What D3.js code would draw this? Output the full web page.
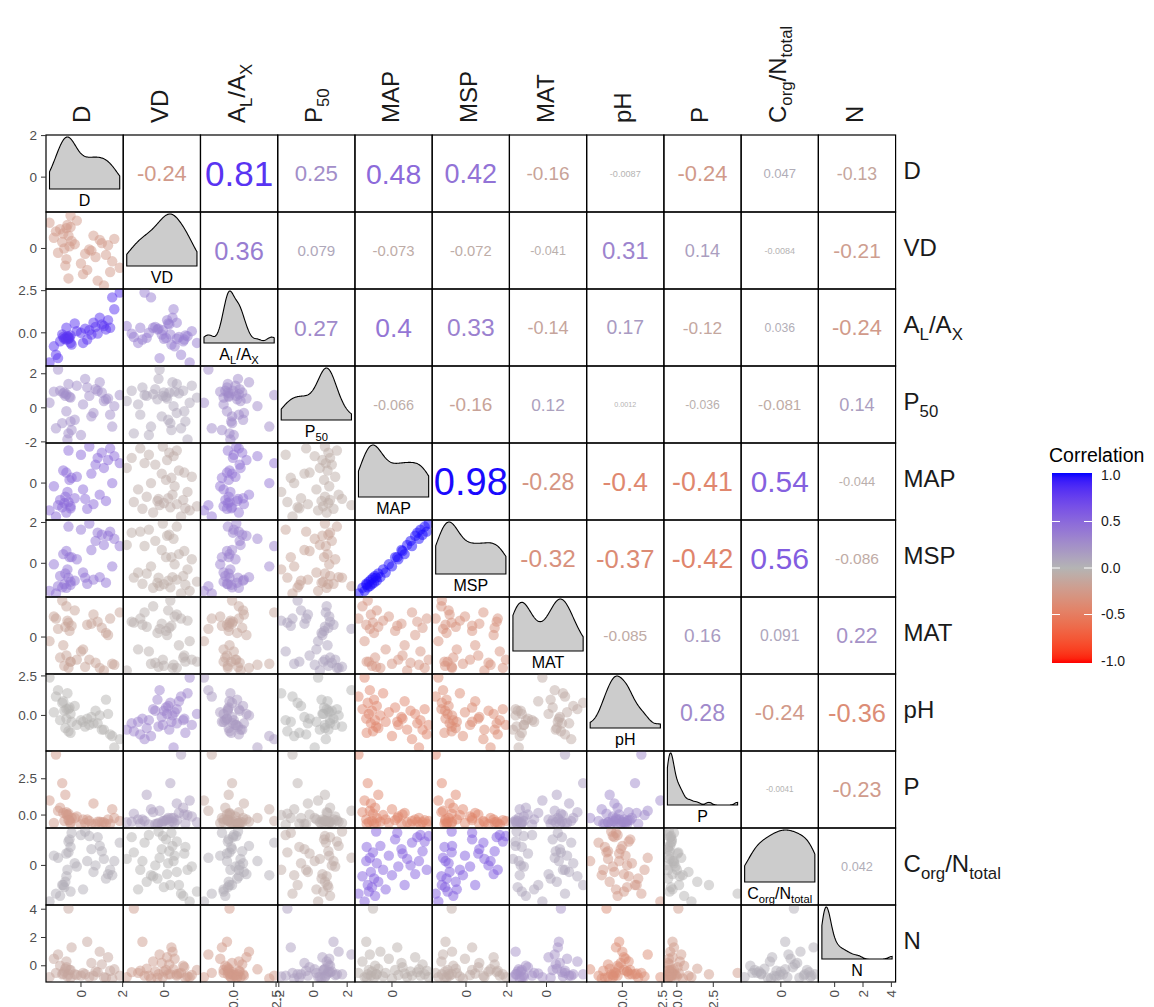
<!doctype html>
<html>
<head>
<meta charset="utf-8">
<title>Correlation matrix</title>
<style>
  body { margin: 0; background: #fff; }
  svg text { font-family: "Liberation Sans", Arial, sans-serif; }
</style>
<script src="https://cdn.jsdelivr.net/npm/d3@7"></script>
</head>
<body>
<svg width="1154" height="1007"></svg>
<script>
// variables, in panel order
var vars = ["D", "VD", "AL", "P50", "MAP", "MSP", "MAT", "pH", "P", "Corg", "N"];
var varLabels = ["D", "VD", "A_{L}/A_{X}", "P_{50}", "MAP", "MSP", "MAT", "pH", "P", "C_{org}/N_{total}", "N"];
var varTicks = [[0, 2], [0], [0, 2.5], [-2, 0, 2], [0], [0, 2], [0], [0, 2.5], [0, 2.5], [0], [0, 2, 4]];

var D    = [-1.2,-0.7,-1.51,0.3,-0.9,-0.5,-1.1,0.6,-0.8,-0.6,1.2,-1.0,-0.3,-0.75,0.9,-0.65,0.1,-1.3,1.5,-0.55,-0.2,0.5,-0.85,1.1,-0.45,0.7,1.86,-0.7,0.2,1.3,-0.5,0.8,1.6,0.0,1.0,-0.6,1.4,0.4];
var VD   = [0.8,-0.5,1.2,-1.0,0.3,1.54,-0.2,0.6,0.0,-1.4,-0.3,0.9,0.2,-0.8,0.4,1.1,-1.2,0.5,-0.6,0.1,1.3,-0.1,0.7,-1.73,0.35,-0.4,-0.9,0.95,-0.25,0.15,1.0,-1.5,0.45,-0.7,0.25,0.6,-1.1,-0.05];
var AL   = [-1.3,0.3,-1.76,-0.4,-0.1,-0.6,-1.5,0.6,-0.35,-0.25,0.2,-0.5,0.55,-0.3,0.9,-0.2,-0.6,-0.8,2.1,-0.3,0.1,-0.1,-0.25,0.4,-0.7,0.35,2.39,-0.4,0.25,0.75,-0.15,-0.05,1.4,0.0,0.5,-0.35,0.3,0.15];
var P50  = [-1.2,0.8,0.3,1.2,-0.9,0.6,2.25,-0.3,0.9,-1.5,0.5,1.0,-0.7,0.7,1.5,-1.86,0.2,0.95,-1.1,0.65,1.3,-0.5,0.85,0.4,-1.3,1.1,0.75,-0.2,1.7,0.55,-0.8,1.0,0.1,-1.6,0.9,1.4,-0.4,0.7];
var MAP  = [-1.59,-1.4,-1.3,-1.22,-1.15,-1.1,-1.05,-1.0,-0.95,-0.9,-0.85,-0.8,-0.72,-0.65,-0.55,-0.42,-0.3,-0.15,0.0,0.15,0.3,0.45,0.6,0.72,0.25,0.88,0.95,0.5,-0.75,1.1,-1.2,1.2,1.28,1.35,1.45,1.55,1.65,1.74];
var MSP  = [-1.48,-1.2,-1.35,-1.0,-1.18,-0.9,-1.12,-0.8,-1.02,-0.7,-0.95,-0.62,-0.85,-0.5,-0.68,-0.3,-0.45,-0.05,-0.15,0.3,0.2,0.65,0.45,0.9,0.3,1.1,0.85,0.6,-0.7,1.35,-1.05,1.5,1.2,1.65,1.4,1.8,1.55,1.95];
var MAT  = [0.9,1.5,-0.2,0.6,1.78,-1.2,0.4,1.1,-1.4,0.7,0.2,-1.0,1.3,0.5,-1.5,0.8,-0.6,1.0,-1.3,0.3,-1.1,0.65,-0.4,-1.63,0.55,-1.25,1.2,-0.9,-1.45,0.1,-1.2,0.75,-1.35,-0.7,0.45,-1.5,0.9,-1.1];
var pH   = [1.2,0.4,2.4,-0.2,0.8,0.1,1.6,-0.5,0.3,-1.0,1.0,-0.3,0.6,-0.8,0.0,1.4,-0.4,0.2,-1.3,0.5,-0.6,-0.1,0.9,-0.9,-0.4,0.3,-1.5,-0.2,-0.7,0.1,-1.1,-0.5,-2.03,-0.3,-0.9,0.4,-1.2,-0.6];
var P    = [4.17,0.2,1.0,-0.3,2.2,-0.5,0.3,0.8,-0.4,0.1,-0.6,0.5,-0.2,1.4,-0.45,0.0,-0.3,-0.55,0.4,-0.35,-0.1,-0.6,0.15,-0.5,-0.2,-0.62,-0.4,0.05,-0.55,-0.3,-0.6,-0.45,-0.2,-0.65,-0.5,-0.35,-0.6,-0.4];
var Corg = [-1.3,-0.5,-1.66,0.2,-0.9,-1.2,0.35,-0.3,-1.0,0.6,-0.6,-1.4,0.1,-0.75,0.9,-0.2,-1.1,0.45,-0.45,1.2,-0.05,0.75,-0.9,0.3,1.5,0.0,1.05,0.55,1.56,-0.4,0.85,1.3,0.2,1.4,0.65,1.1,-0.2,1.35];
var N    = [-0.5,0.3,-0.8,1.7,-0.6,-0.3,0.8,-0.7,-0.4,4.05,-0.85,0.0,-0.6,-0.2,1.0,-0.75,-0.5,0.5,-0.9,-0.3,-0.65,0.2,-0.55,-0.8,1.3,-0.4,-0.7,-0.1,-0.6,0.6,-0.85,-0.45,-0.25,-0.7,0.1,-0.6,-0.35,-0.8];

// upper triangle correlations, row by row
var corrUpper = [
    [-0.24, 0.81, 0.25, 0.48, 0.42, -0.16, -0.0087, -0.24, 0.047, -0.13],
    [0.36, 0.079, -0.073, -0.072, -0.041, 0.31, 0.14, -0.0084, -0.21],
    [0.27, 0.4, 0.33, -0.14, 0.17, -0.12, 0.036, -0.24],
    [-0.066, -0.16, 0.12, 0.0012, -0.036, -0.081, 0.14],
    [0.98, -0.28, -0.4, -0.41, 0.54, -0.044],
    [-0.32, -0.37, -0.42, 0.56, -0.086],
    [-0.085, 0.16, 0.091, 0.22],
    [0.28, -0.24, -0.36],
    [-0.0041, -0.23],
    [0.042]
];
var legendTicks = [1, 0.5, 0, -0.5, -1];

var data = [D, VD, AL, P50, MAP, MSP, MAT, pH, P, Corg, N];
var nv = vars.length;

var svg = d3.select("svg");
var gridL = 46, gridT = 135, gridR = 895.6, gridB = 982;
var cw = (gridR - gridL) / nv, ch = (gridB - gridT) / nv;

var loc = d3.formatLocale({ decimal: ".", thousands: ",", grouping: [3], currency: ["", ""], minus: "-" });
var fmtR = loc.format(".2~g");

var color = d3.scaleLinear().domain([-1, 0, 1])
    .range(["#ff0000", "#b4b4b4", "#0000ff"])
    .interpolate(d3.interpolateLab);
var textSize = d3.scaleSqrt().domain([0, 1]).range([6.1, 38.3]);

function corrOf(a, b) {
    var r = Math.min(a, b), c = Math.max(a, b);
    return corrUpper[r][c - r - 1];
}

function domainOf(v) {
    var e = d3.extent(v), pad = (e[1] - e[0]) * 0.05;
    return [e[0] - pad, e[1] + pad];
}

var xs = data.map(function(v, j) {
    return d3.scaleLinear().domain(domainOf(v)).range([gridL + j * cw, gridL + (j + 1) * cw]);
});
var ys = data.map(function(v, i) {
    return d3.scaleLinear().domain(domainOf(v)).range([gridT + (i + 1) * ch, gridT + i * ch]);
});

// text with _{sub} parts
function richText(sel, str, size) {
    var re = /_\{([^}]*)\}|([^_]+)/g, m, inSub = false, shift = size * 0.28;
    while ((m = re.exec(str))) {
        var isSub = m[1] !== undefined;
        var t = sel.append("tspan").text(isSub ? m[1] : m[2])
            .attr("font-size", isSub ? size * 0.7 : size);
        if (isSub && !inSub) t.attr("dy", shift);
        if (!isSub && inSub) t.attr("dy", -shift);
        inSub = isSub;
    }
}

var defs = svg.append("defs");

function kde(values, xsEval) {
    var sorted = values.slice().sort(d3.ascending);
    var sd = d3.deviation(values);
    var iqr = d3.quantile(sorted, 0.75) - d3.quantile(sorted, 0.25);
    var bw = 0.9 * Math.min(sd, iqr / 1.34) * Math.pow(values.length, -0.2);
    return xsEval.map(function(x) {
        return [x, d3.mean(values, function(v) {
            var u = (x - v) / bw;
            return Math.exp(-0.5 * u * u) / Math.sqrt(2 * Math.PI);
        }) / bw];
    });
}

for (var i = 0; i < nv; i++) {
    for (var j = 0; j < nv; j++) {
        var x0 = gridL + j * cw, y0 = gridT + i * ch;
        var cell = svg.append("g");
        var clipId = "clip-" + i + "-" + j;
        defs.append("clipPath").attr("id", clipId)
            .append("rect").attr("x", x0).attr("y", y0).attr("width", cw).attr("height", ch);

        if (i > j) {
            var r = corrOf(i, j);
            cell.append("g").attr("clip-path", "url(#" + clipId + ")")
                .selectAll("circle")
                .data(d3.range(data[0].length))
                .enter().append("circle")
                .attr("cx", function(k) { return xs[j](data[j][k]); })
                .attr("cy", function(k) { return ys[i](data[i][k]); })
                .attr("r", 5.2)
                .attr("fill", color(r))
                .attr("fill-opacity", 0.5);
        } else if (i < j) {
            var rr = corrOf(i, j);
            cell.append("text")
                .attr("x", x0 + cw / 2).attr("y", y0 + ch / 2)
                .attr("dy", "0.36em")
                .attr("text-anchor", "middle")
                .attr("font-size", textSize(Math.abs(rr)))
                .attr("fill", color(rr))
                .text(fmtR(rr));
        } else {
            var v = data[i], ext = d3.extent(v);
            var pts = kde(v, d3.range(121).map(function(k) { return ext[0] + (ext[1] - ext[0]) * k / 120; }));
            var yd = d3.scaleLinear().domain([0, d3.max(pts, function(p) { return p[1]; })])
                .range([y0 + 54, y0 + 2]);
            var area = [[ext[0], 0]].concat(pts, [[ext[1], 0]]);
            cell.append("path")
                .attr("d", d3.line().x(function(p) { return xs[j](p[0]); }).y(function(p) { return yd(p[1]); })(area) + "Z")
                .attr("fill", "#cccccc")
                .attr("stroke", "#000")
                .attr("stroke-width", 1.1);
            richText(cell.append("text")
                .attr("x", x0 + cw / 2).attr("y", y0 + 71)
                .attr("text-anchor", "middle")
                .attr("fill", "#000"), varLabels[i], 16);
        }

        cell.append("rect")
            .attr("x", x0).attr("y", y0).attr("width", cw).attr("height", ch)
            .attr("fill", "none").attr("stroke", "#000").attr("stroke-width", 1.2);
    }
}

function tickFmt(t) {
    return t.some(function(v) { return v % 1 !== 0; }) ? loc.format(".1f") : loc.format("d");
}

// left axes
for (var ri = 0; ri < nv; ri++) {
    var f = tickFmt(varTicks[ri]);
    var g = svg.append("g");
    varTicks[ri].forEach(function(t) {
        var y = ys[ri](t);
        g.append("line").attr("x1", gridL - 5).attr("x2", gridL).attr("y1", y).attr("y2", y)
            .attr("stroke", "#333").attr("stroke-width", 1);
        g.append("text").attr("x", gridL - 9).attr("y", y).attr("dy", "0.35em")
            .attr("text-anchor", "end").attr("font-size", 13.5).attr("fill", "#4d4d4d")
            .text(f(t));
    });
}

// bottom axes
for (var ci = 0; ci < nv; ci++) {
    var fb = tickFmt(varTicks[ci]);
    var gb = svg.append("g");
    varTicks[ci].forEach(function(t) {
        var x = xs[ci](t);
        gb.append("line").attr("x1", x).attr("x2", x).attr("y1", gridB).attr("y2", gridB + 5)
            .attr("stroke", "#333").attr("stroke-width", 1);
        gb.append("text").attr("transform", "translate(" + x + "," + (gridB + 8) + ") rotate(-90)")
            .attr("dy", "0.35em").attr("text-anchor", "end")
            .attr("font-size", 13.5).attr("fill", "#4d4d4d")
            .text(fb(t));
    });
}

// strip labels: top (rotated) and right
varLabels.forEach(function(lab, k) {
    var cx = gridL + (k + 0.5) * cw;
    richText(svg.append("text")
        .attr("transform", "translate(" + cx + "," + (gridT - 12) + ") rotate(-90)")
        .attr("dy", "0.36em")
        .attr("fill", "#1a1a1a"), lab, 24);
    richText(svg.append("text")
        .attr("x", gridR + 8).attr("y", gridT + (k + 0.5) * ch)
        .attr("dy", "0.36em")
        .attr("fill", "#1a1a1a"), lab, 24);
});

// legend
var lx = 1052, lw = 40, ly0 = 475, ly1 = 661;
var ly = d3.scaleLinear().domain([-1, 1]).range([ly1, ly0]);
var grad = defs.append("linearGradient").attr("id", "corr-grad")
    .attr("x1", 0).attr("y1", 1).attr("x2", 0).attr("y2", 0);
d3.range(-1, 1.0001, 0.05).forEach(function(v) {
    grad.append("stop").attr("offset", (v + 1) / 2).attr("stop-color", color(v));
});
svg.append("text").attr("x", lx - 3).attr("y", 462)
    .attr("font-size", 19.5).attr("fill", "#000").text("Correlation");
svg.append("rect").attr("x", lx).attr("y", ly0 - 2).attr("width", lw).attr("height", ly1 - ly0 + 4)
    .attr("fill", "url(#corr-grad)");
var lfmt = loc.format(".1f");
legendTicks.forEach(function(t) {
    var y = ly(t);
    if (Math.abs(t) < 1) {
        svg.append("line").attr("x1", lx).attr("x2", lx + 8).attr("y1", y).attr("y2", y)
            .attr("stroke", "#fff").attr("stroke-width", 1);
        svg.append("line").attr("x1", lx + lw - 8).attr("x2", lx + lw).attr("y1", y).attr("y2", y)
            .attr("stroke", "#fff").attr("stroke-width", 1);
    }
    svg.append("text").attr("x", lx + lw + 9).attr("y", y).attr("dy", "0.35em")
        .attr("font-size", 14).attr("fill", "#1a1a1a").text(lfmt(t));
});
</script>
</body>
</html>
